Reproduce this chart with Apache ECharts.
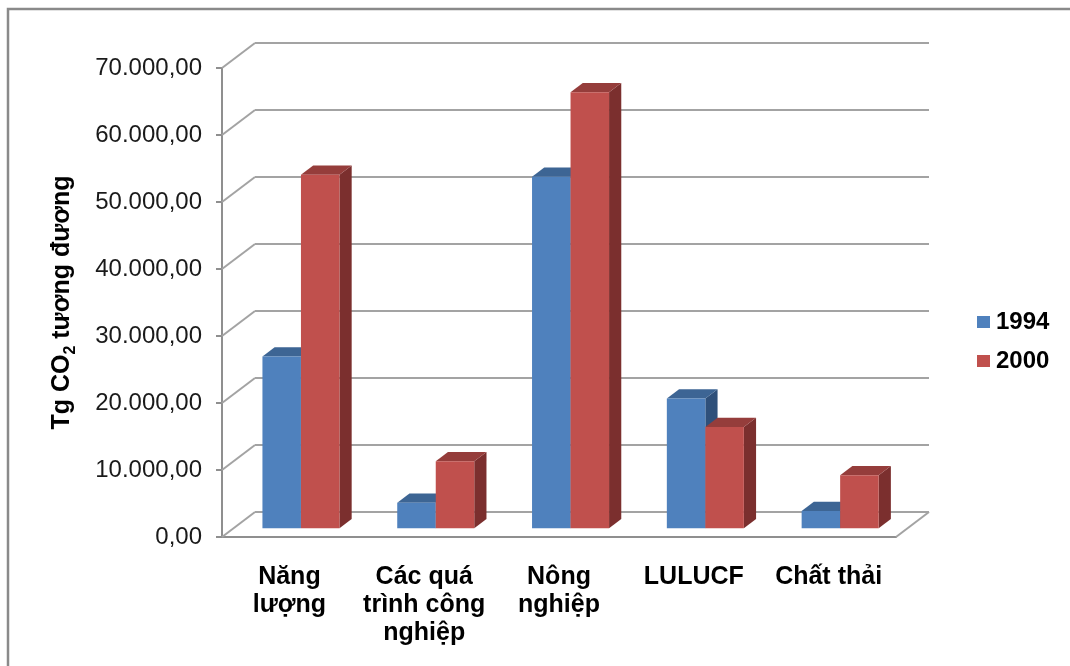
<!DOCTYPE html>
<html><head><meta charset="utf-8">
<script src="https://cdn.jsdelivr.net/npm/echarts@6/dist/echarts.min.js"></script>
<style>html,body{margin:0;padding:0;background:#fff}#c{width:1070px;height:666px}</style>
</head><body><div id="c"></div>
<script>
const categories = ['Năng\nlượng', 'Các quá\ntrình công\nnghiệp', 'Nông\nnghiệp', 'LULUCF', 'Chất thải'];
const seriesNames = ['1994', '2000'];
const values1994 = [25637.09, 3807.19, 52450.00, 19380.00, 2565.02];
const values2000 = [52773.46, 10005.72, 65090.65, 15104.72, 7925.18];
const yTicks = [0, 10000, 20000, 30000, 40000, 50000, 60000, 70000];
const yName = '{a|Tg CO}{s|2}{a| tương đương}';

const DEPTH_X = 33, DEPTH_Y = 25;
const BAR_POS = 0.35, BAR_DEPTH = 0.37, BAR_FRAC = 0.2857;
const GRID_COLOR = '#a3a3a3', AXIS_COLOR = '#8f8f8f';
const FONT = 'Liberation Sans, Arial, sans-serif';
const palette = [
  {front: '#4F81BD', top: '#3D6594', side: '#2F507A'},
  {front: '#C0504D', top: '#953D3B', side: '#7B2F2E'}
];

function fmt(v) {
  return v.toFixed(2).replace('.', ',').replace(/\B(?=(\d{3})+(?!\d))/g, '.');
}

function barRenderer(sIdx) {
  const c = palette[sIdx];
  return function (params, api) {
    const i = api.value(0), v = api.value(1);
    const base = api.coord([i, 0]);
    const topP = api.coord([i, v]);
    const band = api.size([1, 0])[0];
    const w = band * BAR_FRAC;
    const ox = DEPTH_X * BAR_POS, oy = -DEPTH_Y * BAR_POS;
    const dx = DEPTH_X * BAR_DEPTH, dy = -DEPTH_Y * BAR_DEPTH;
    const x = base[0] - w + sIdx * w + ox;
    const yb = base[1] + oy, yt = topP[1] + oy;
    return {type: 'group', children: [
      {type: 'polygon', shape: {points: [[x + w, yt], [x + w + dx, yt + dy], [x + w + dx, yb + dy], [x + w, yb]]}, style: {fill: c.side}},
      {type: 'polygon', shape: {points: [[x, yt], [x + w, yt], [x + w + dx, yt + dy], [x + dx, yt + dy]]}, style: {fill: c.top}},
      {type: 'rect', shape: {x: x, y: yt, width: w, height: yb - yt}, style: {fill: c.front}}
    ]};
  };
}

const chart = echarts.init(document.getElementById('c'), null, {renderer: 'canvas'});
const G = {left: 222, right: 174, top: 68, bottom: 129};
chart.setOption({
  animation: false,
  backgroundColor: '#fff',
  graphic: [{type: 'rect', shape: {x: 8, y: 9, width: 1090, height: 700}, style: {fill: 'none', stroke: '#8a8a8a', lineWidth: 2.5}, z: 100}],
  legend: {
    data: seriesNames, orient: 'vertical', left: 977, top: 309, padding: 0,
    itemWidth: 13, itemHeight: 12, itemGap: 13, icon: 'rect',
    textStyle: {fontFamily: FONT, fontSize: 24, fontWeight: 'bold', color: '#000', lineHeight: 26, padding: [0, 0, 0, 1]}
  },
  grid: [
    {left: G.left, right: G.right, top: G.top, bottom: G.bottom},
    {left: G.left + DEPTH_X, right: G.right - DEPTH_X, top: G.top - DEPTH_Y, bottom: G.bottom + DEPTH_Y}
  ],
  xAxis: [
    {type: 'category', gridIndex: 0, data: categories,
      axisLine: {lineStyle: {color: AXIS_COLOR, width: 2}},
      axisTick: {length: 8, lineStyle: {color: AXIS_COLOR, width: 2}},
      axisLabel: {interval: 0, margin: 26, fontFamily: FONT, fontSize: 25, fontWeight: 'bold', color: '#000', lineHeight: 28}},
    {type: 'value', gridIndex: 1, min: 0, max: 1, show: false}
  ],
  yAxis: [
    {type: 'value', gridIndex: 0, min: 0, max: 70000, interval: 10000,
      axisLine: {show: true, lineStyle: {color: AXIS_COLOR, width: 2}},
      axisTick: {show: true, length: 6, lineStyle: {color: AXIS_COLOR, width: 2}},
      splitLine: {show: false},
      axisLabel: {margin: 20, formatter: fmt, fontFamily: FONT, fontSize: 24, color: '#1a1a1a'},
      name: yName, nameLocation: 'middle', nameRotate: 90, nameGap: 145,
      nameTextStyle: {rich: {
        a: {fontFamily: FONT, fontSize: 25, fontWeight: 'bold', color: '#000', lineHeight: 30},
        s: {fontFamily: FONT, fontSize: 16, fontWeight: 'bold', color: '#000', lineHeight: 30, verticalAlign: 'bottom', padding: [0, 0, -2, 0]}
      }}},
    {type: 'value', gridIndex: 1, min: 0, max: 70000, interval: 10000,
      axisLine: {show: false}, axisTick: {show: false}, axisLabel: {show: false},
      splitLine: {show: true, lineStyle: {color: GRID_COLOR, width: 2}}}
  ],
  series: [
    {type: 'custom', name: 'walls', xAxisIndex: 0, yAxisIndex: 0, silent: true, z: 1,
      data: yTicks.map(t => [0, t]),
      renderItem: function (params, api) {
        const cs = params.coordSys;
        const y = api.coord([0, api.value(1)])[1];
        const st = {stroke: GRID_COLOR, lineWidth: 2};
        const ch = [{type: 'line', shape: {x1: cs.x, y1: y, x2: cs.x + DEPTH_X, y2: y - DEPTH_Y}, style: st}];
        if (params.dataIndex === 0) {
          ch.push({type: 'line', shape: {x1: cs.x + cs.width, y1: y, x2: cs.x + cs.width + DEPTH_X, y2: y - DEPTH_Y}, style: st});
        }
        return {type: 'group', children: ch};
      }},
    {type: 'custom', name: seriesNames[0], xAxisIndex: 0, yAxisIndex: 0, z: 3,
      itemStyle: {color: palette[0].front},
      data: values1994.map((v, i) => [i, v]), renderItem: barRenderer(0)},
    {type: 'custom', name: seriesNames[1], xAxisIndex: 0, yAxisIndex: 0, z: 4,
      itemStyle: {color: palette[1].front},
      data: values2000.map((v, i) => [i, v]), renderItem: barRenderer(1)}
  ]
});
</script></body></html>
